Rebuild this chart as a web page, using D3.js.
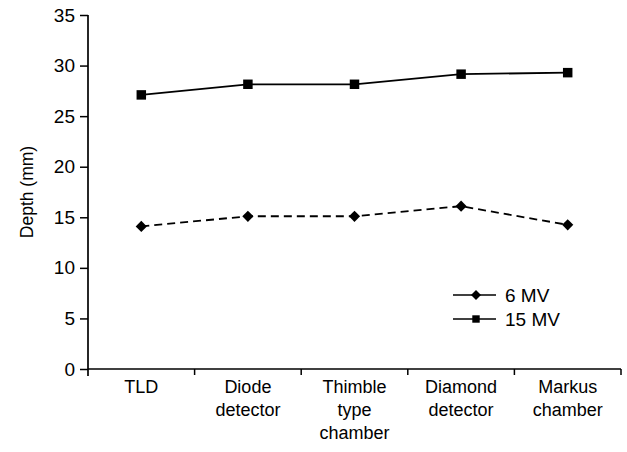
<!DOCTYPE html>
<html><head><meta charset="utf-8">
<script src="https://cdn.jsdelivr.net/npm/d3@7"></script>
<style>body{margin:0;background:#fff}svg{display:block}text{font-family:"Liberation Sans",Arial,sans-serif;fill:#000}</style>
</head><body>
<script>
const categories = [["TLD"],["Diode","detector"],["Thimble","type","chamber"],["Diamond","detector"],["Markus","chamber"]];
const catKeys = ["TLD","Diode detector","Thimble type chamber","Diamond detector","Markus chamber"];
const mv6 = [14.1, 15.1, 15.1, 16.1, 14.25];
const mv15 = [27.1, 28.15, 28.15, 29.15, 29.3];
const yTicks = [0,5,10,15,20,25,30,35];
const seriesNames = ["6 MV","15 MV"];

const W=627,H=452;
const svg=d3.select("body").append("svg").attr("width",W).attr("height",H);
const x=d3.scaleBand().domain(catKeys).range([88,621]).padding(0);
const y=d3.scaleLinear().domain([0,35]).range([369,15]);

// y axis
const ya=svg.append("g").attr("transform","translate(88,0)")
  .call(d3.axisLeft(y).tickValues(yTicks).tickSize(8).tickPadding(5).tickFormat(d3.format("d")));
ya.select(".domain").attr("d",`M0,${y(35)}V376`).attr("stroke","#000").attr("stroke-width",1.7);
ya.selectAll(".tick line").attr("stroke","#000").attr("stroke-width",1.5);
ya.selectAll(".tick text").style("font-size","19px").attr("fill","#000");

// x axis
const xa=svg.append("g");
xa.append("line").attr("x1",x.range()[0]).attr("x2",x.range()[1]).attr("y1",y(0)).attr("y2",y(0)).attr("stroke","#000").attr("stroke-width",1.7);
catKeys.forEach((c,i)=>{
  const bx=x(c)+x.bandwidth();
  xa.append("line").attr("x1",bx).attr("x2",bx).attr("y1",y(0)).attr("y2",y(0)+6).attr("stroke","#000").attr("stroke-width",1.5);
  const t=xa.append("text").attr("text-anchor","middle").style("font-size","18px");
  categories[i].forEach((ln,j)=>t.append("tspan").attr("x",x(c)+x.bandwidth()/2).attr("y",393+j*23).text(ln));
});

// axis title
svg.append("text").attr("transform","translate(33,192) rotate(-90)").attr("text-anchor","middle").style("font-size","17.5px").text("Depth (mm)");

const cx=c=>x(c)+x.bandwidth()/2;
const line=d3.line().x((d,i)=>cx(catKeys[i])).y(d=>y(d));

svg.append("path").datum(mv15).attr("d",line).attr("fill","none").attr("stroke","#000").attr("stroke-width",1.8);
svg.append("path").datum(mv6).attr("d",line).attr("fill","none").attr("stroke","#000").attr("stroke-width",1.8).attr("stroke-dasharray","8,5");

const sq=d3.symbol().type(d3.symbolSquare).size(90);
const dm=d3.symbol().type(d3.symbolDiamond2).size(80);
svg.selectAll(".s15").data(mv15).join("path").attr("d",sq).attr("transform",(d,i)=>`translate(${cx(catKeys[i])},${y(d)})`).attr("fill","#000");
svg.selectAll(".s6").data(mv6).join("path").attr("d",dm).attr("transform",(d,i)=>`translate(${cx(catKeys[i])},${y(d)})`).attr("fill","#000");

// legend
const lg=svg.append("g");
seriesNames.forEach((n,i)=>{
  const ly=295+i*24;
  lg.append("line").attr("x1",453).attr("x2",496).attr("y1",ly).attr("y2",ly).attr("stroke","#000").attr("stroke-width",1.6);
  lg.append("path").attr("d",i===0?d3.symbol().type(d3.symbolDiamond2).size(64)():d3.symbol().type(d3.symbolSquare).size(55)()).attr("transform",`translate(476,${ly})`).attr("fill","#000");
  lg.append("text").attr("x",505).attr("y",ly+7).style("font-size","19px").text(n);
});
</script>
</body></html>
